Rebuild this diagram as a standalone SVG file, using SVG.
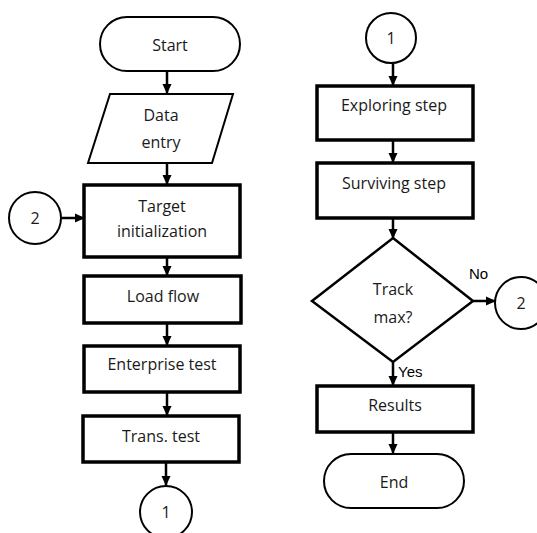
<svg xmlns="http://www.w3.org/2000/svg" width="537" height="533" viewBox="0 0 537 533">
<style>
.t{font-family:"Open Sans","Liberation Sans",sans-serif;font-size:16px;fill:#1a1a1a;text-anchor:middle}
.a{font-family:"Liberation Sans",Arial,sans-serif;font-size:15px;fill:#000}
.box{fill:#fff;stroke:#000;stroke-width:3.5}
.thin{fill:#fff;stroke:#000;stroke-width:2}
.c line{stroke:#000;stroke-width:2.5}
</style>
<defs>
<marker id="ah" markerWidth="10" markerHeight="10" refX="9" refY="5" orient="auto" markerUnits="userSpaceOnUse">
<path d="M0,0.5 L10,5 L0,9.5 z" fill="#000"/>
</marker>
</defs>
<g class="c" id="connectors">
<line x1="167" y1="71" x2="167" y2="93" marker-end="url(#ah)"/>
<line x1="167" y1="163" x2="167" y2="184" marker-end="url(#ah)"/>
<line x1="62" y1="218" x2="84" y2="218" marker-end="url(#ah)"/>
<line x1="167" y1="257" x2="167" y2="275" marker-end="url(#ah)"/>
<line x1="167" y1="323" x2="167" y2="345" marker-end="url(#ah)"/>
<line x1="167" y1="392" x2="167" y2="415" marker-end="url(#ah)"/>
<line x1="166" y1="462" x2="166" y2="485" marker-end="url(#ah)"/>
<line x1="393" y1="63" x2="393" y2="85" marker-end="url(#ah)"/>
<line x1="393" y1="140" x2="393" y2="162" marker-end="url(#ah)"/>
<line x1="393" y1="218" x2="393" y2="238" marker-end="url(#ah)"/>
<line x1="473" y1="301" x2="495" y2="301" marker-end="url(#ah)"/>
<line x1="393" y1="362" x2="393" y2="385" marker-end="url(#ah)"/>
<line x1="393" y1="432" x2="393" y2="453" marker-end="url(#ah)"/>
<text class="a" x="469" y="279">No</text>
<text class="a" x="398" y="377">Yes</text>
</g>
<g id="start">
<rect class="thin" x="100" y="17" width="140" height="54" rx="27"/>
<text class="t" x="170" y="51">Start</text>
</g>
<g id="data-entry">
<polygon class="thin" points="110,94 233,94 212,163 88,163"/>
<text class="t" x="161" y="121">Data</text>
<text class="t" x="161" y="148">entry</text>
</g>
<g id="conn2-left">
<circle class="thin" cx="35" cy="218" r="26"/>
<text class="t" x="35" y="224">2</text>
</g>
<g id="target-init">
<rect class="box" x="84" y="185" width="156" height="72"/>
<text class="t" x="162" y="212">Target</text>
<text class="t" x="162" y="237">initialization</text>
</g>
<g id="load-flow">
<rect class="box" x="84" y="276" width="157" height="47"/>
<text class="t" x="163" y="302">Load flow</text>
</g>
<g id="enterprise-test">
<rect class="box" x="84" y="346" width="156" height="46"/>
<text class="t" x="162" y="370">Enterprise test</text>
</g>
<g id="trans-test">
<rect class="box" x="83" y="416" width="156" height="46"/>
<text class="t" x="161" y="442">Trans. test</text>
</g>
<g id="conn1-bottom">
<circle class="thin" cx="166" cy="512" r="26"/>
<text class="t" x="166" y="518">1</text>
</g>
<g id="conn1-top">
<circle class="thin" cx="391" cy="38" r="25"/>
<text class="t" x="391" y="44">1</text>
</g>
<g id="exploring">
<rect class="box" x="317" y="86" width="156" height="54"/>
<text class="t" x="394" y="111">Exploring step</text>
</g>
<g id="surviving">
<rect class="box" x="317" y="163" width="156" height="55"/>
<text class="t" x="394" y="189">Surviving step</text>
</g>
<g id="decision">
<polygon class="thin" style="stroke-width:2.5" points="393,238 473,301 393,362 312,301"/>
<text class="t" x="393" y="295">Track</text>
<text class="t" x="393" y="323">max?</text>
</g>
<g id="conn2-right">
<circle class="thin" cx="521" cy="303" r="26"/>
<text class="t" x="521" y="309">2</text>
</g>
<g id="results">
<rect class="box" x="317" y="386" width="156" height="46"/>
<text class="t" x="395" y="411">Results</text>
</g>
<g id="end">
<rect class="thin" x="324" y="454" width="140" height="54" rx="27"/>
<text class="t" x="394" y="488">End</text>
</g>
</svg>
